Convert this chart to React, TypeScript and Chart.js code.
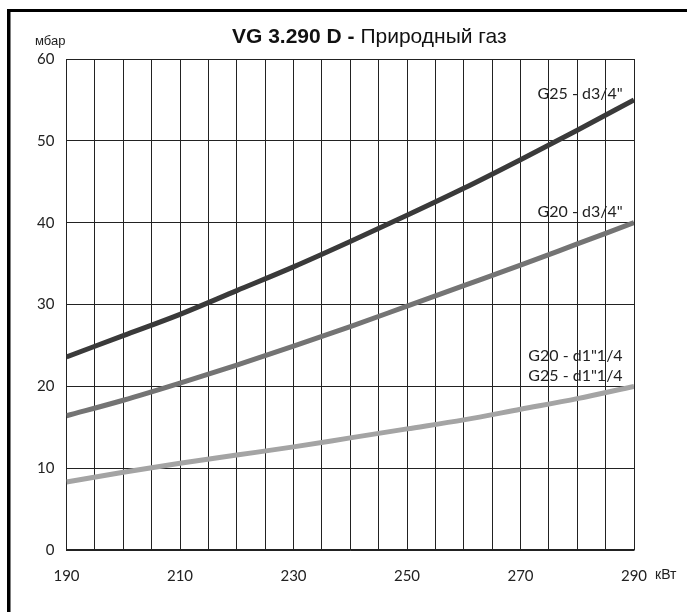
import React, { useEffect, useRef } from "react";
import { Chart, registerables } from "chart.js";

Chart.register(...registerables);

// Data
const powerKW = [190, 200, 210, 220, 230, 240, 250, 260, 270, 280, 290];
const g25D34 = [23.6, 26.2, 28.8, 31.7, 34.6, 37.7, 40.9, 44.2, 47.7, 51.3, 55.0];
const g20D34 = [16.4, 18.3, 20.4, 22.6, 24.9, 27.3, 29.8, 32.3, 34.8, 37.4, 40.0];
const gD114 = [8.3, 9.5, 10.6, 11.6, 12.6, 13.7, 14.8, 15.9, 17.2, 18.5, 20.0];

const xTickLabels = [190, 210, 230, 250, 270, 290];
const titleBold = "VG 3.290 D -";
const titleNormal = " Природный газ";
const yUnit = "мбар";
const xUnit = "кВт";

// Series label texts and their anchor (right end) in data coordinates
const seriesLabels = ['G25 - d3/4"', 'G20 - d3/4"', 'G20 - d1"1/4', 'G25 - d1"1/4'];
const seriesLabelX = [288, 288, 288, 288];
const seriesLabelY = [55.8, 41.3, 23.7, 21.3];

const toPts = (ys: number[]) => powerKW.map((x, i) => ({ x, y: ys[i] }));

const overlay = {
  id: "overlay",
  afterDraw(chart: any) {
    const ctx = chart.ctx;
    const xs = chart.scales.x;
    const ys = chart.scales.y;
    ctx.save();
    // frame (left & top edges)
    ctx.fillStyle = "#000";
    ctx.fillRect(7, 9, 3.5, 700);
    ctx.fillRect(7, 9, 700, 3);
    // title
    ctx.textBaseline = "middle";
    ctx.fillStyle = "#111";
    ctx.textAlign = "left";
    const tx = 232;
    ctx.font = "bold 21px 'Liberation Sans', Arial, sans-serif";
    const wb = ctx.measureText(titleBold).width;
    ctx.fillText(titleBold, tx, 37);
    ctx.font = "21px 'Liberation Sans', Arial, sans-serif";
    ctx.fillText(titleNormal, tx + wb, 37);
    // unit labels
    ctx.font = "13px 'Liberation Sans Narrow', 'Liberation Sans', sans-serif";
    ctx.fillStyle = "#222";
    ctx.fillText(yUnit, 35, 41);
    ctx.font = "14px 'Liberation Sans Narrow', 'Liberation Sans', sans-serif";
    ctx.fillText(xUnit, 655, 575);
    // series labels
    ctx.font = "16px Lato, sans-serif";
    ctx.textAlign = "right";
    ctx.fillStyle = "#222";
    seriesLabels.forEach((t, i) => {
      ctx.fillText(t, xs.getPixelForValue(seriesLabelX[i]), ys.getPixelForValue(seriesLabelY[i]));
    });
    ctx.restore();
  },
};

export default function App() {
  const ref = useRef<HTMLCanvasElement>(null);
  useEffect(() => {
    const chart = new Chart(ref.current!, {
      type: "line",
      data: {
        datasets: [
          { data: toPts(g25D34), borderColor: "#3a3a3a", borderWidth: 5, pointRadius: 0, tension: 0.4, cubicInterpolationMode: "monotone" },
          { data: toPts(g20D34), borderColor: "#747474", borderWidth: 5, pointRadius: 0, tension: 0.4, cubicInterpolationMode: "monotone" },
          { data: toPts(gD114), borderColor: "#a4a4a4", borderWidth: 5, pointRadius: 0, tension: 0.4, cubicInterpolationMode: "monotone" },
        ],
      } as any,
      options: {
        responsive: false,
        animation: false,
        layout: { padding: { left: 0, top: 59, right: 53, bottom: 0 } },
        plugins: { legend: { display: false }, tooltip: { enabled: false }, title: { display: false } },
        scales: {
          x: {
            type: "linear",
            min: 190,
            max: 290,
            afterFit: (s: any) => { s.height = 62; },
            grid: { color: "#222", lineWidth: 1, drawTicks: false },
            border: { color: "#222", width: 1.5 },
            ticks: {
              stepSize: 5,
              autoSkip: false,
              maxRotation: 0,
              padding: 17,
              color: "#222",
              font: { family: "Lato", size: 15 },
              callback: (v: any) => (xTickLabels.includes(Number(v)) ? String(v) : ""),
            },
          },
          y: {
            min: 0,
            max: 60,
            afterFit: (s: any) => { s.width = 66.5; },
            grid: { color: "#222", lineWidth: 1, drawTicks: false },
            border: { color: "#222", width: 1 },
            ticks: {
              stepSize: 10,
              padding: 12,
              color: "#222",
              font: { family: "Lato", size: 15 },
            },
          },
        },
      } as any,
      plugins: [overlay],
    });
    return () => chart.destroy();
  }, []);
  return (
    <div style={{ position: "fixed", left: 0, top: 0, width: 687, height: 612, background: "#fff" }}>
      <canvas ref={ref} width={687} height={612} style={{ display: "block" }} />
    </div>
  );
}
